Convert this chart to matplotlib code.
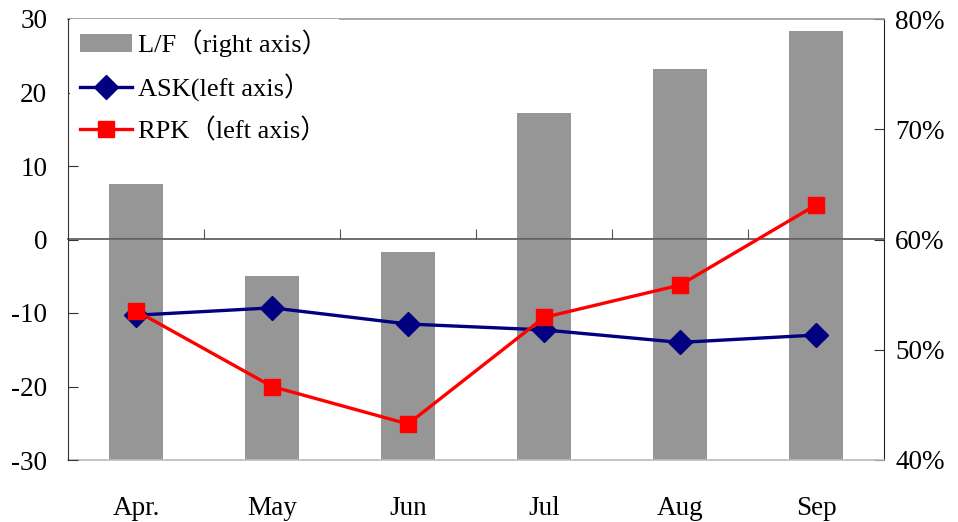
import matplotlib.pyplot as plt
from matplotlib.ticker import FuncFormatter

plt.rcParams['font.family'] = ['Liberation Serif', 'Noto Sans CJK SC', 'DejaVu Sans']

# monthly data
months = ["Apr.", "May", "Jun", "Jul", "Aug", "Sep"]
load_factor = [65.0, 56.7, 58.9, 71.5, 75.5, 78.9]      # %, right axis
ask_change = [-10.3, -9.3, -11.5, -12.3, -14.0, -13.0]  # left axis
rpk_change = [-9.7, -20.0, -25.1, -10.6, -6.2, 4.7]     # left axis

x = list(range(len(months)))
fs = 19.5

fig = plt.figure(figsize=(9.58, 5.22), dpi=100)
ax = fig.add_axes([68 / 958, 62 / 522, 816 / 958, 441 / 522])
ax2 = ax.twinx()

# bars on the right axis, lines on top
ax2.bar(x, load_factor, width=0.4, color="#969696", label="L/F（right axis）", zorder=1)
ax.set_zorder(ax2.get_zorder() + 1)
ax.patch.set_visible(False)

ax.plot(x, ask_change, color="#000080", lw=2.4, marker="D", ms=12,
        label="ASK(left axis）")
ax.plot(x, rpk_change, color="#ff0000", lw=2.4, marker="s", ms=11,
        label="RPK（left axis）")

ax.set_xlim(-0.5, len(months) - 0.5)
ax.set_ylim(-30, 30)
ax.set_yticks([-30, -20, -10, 0, 10, 20, 30])
ax.set_yticklabels([str(v) if v >= 0 else "-" + str(-v) for v in [-30, -20, -10, 0, 10, 20, 30]])
ax2.set_ylim(40, 80)
ax2.set_yticks([40, 50, 60, 70, 80])
ax2.yaxis.set_major_formatter(FuncFormatter(lambda v, p: f"{v:.0f}%"))

ax.set_xticks(x)
ax.set_xticklabels(months)
ax.tick_params(axis="x", length=0, pad=26, labelsize=fs)
ax.tick_params(axis="y", direction="in", length=7, pad=15, labelsize=fs, color="#333333")
ax2.tick_params(axis="y", direction="in", length=7, pad=8, labelsize=fs, color="#333333")

# zero line with category separators
zero = ax.secondary_xaxis(0.5)
zero.set_xticks([i + 0.5 for i in x[:-1]])
zero.tick_params(axis="x", direction="out", length=7, labeltop=False, labelbottom=False,
                 color="#555555")
zero.spines["top"].set_color("#555555")
zero.spines["top"].set_linewidth(1.2)

for s in ["top", "bottom", "right"]:
    ax.spines[s].set_visible(False)
ax.spines["left"].set_color("#333333")
ax2.spines["left"].set_visible(False)
ax2.spines["right"].set_color("#222222")
ax2.spines["top"].set_color("#999999")
ax2.spines["bottom"].set_color("#bbbbbb")
ax2.spines["top"].set_linewidth(1.2)
ax2.spines["bottom"].set_linewidth(1.2)

h1, l1 = ax2.get_legend_handles_labels()
h2, l2 = ax.get_legend_handles_labels()
leg = ax.legend(h1 + h2, l1 + l2, loc="upper left", bbox_to_anchor=(0.002, 1.0),
                borderaxespad=0, fontsize=fs - 0.5, frameon=True, fancybox=False,
                framealpha=1, edgecolor="white", handlelength=1.95,
                handletextpad=0.25, labelspacing=0.62, borderpad=0.4)
leg.get_frame().set_linewidth(0)

fig.savefig("out.png", dpi=100)
